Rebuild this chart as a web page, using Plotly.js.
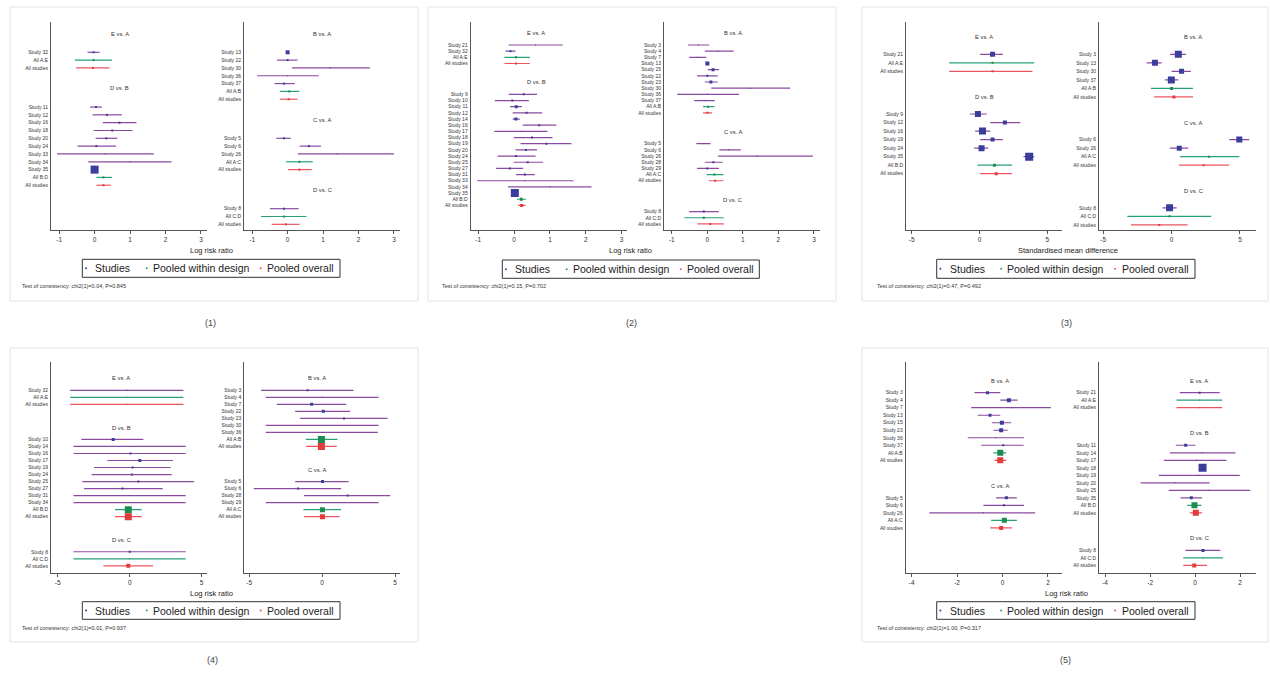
<!DOCTYPE html>
<html>
<head>
<meta charset="utf-8">
<script src="https://cdn.plot.ly/plotly-3.0.1.min.js"></script>
<style>html,body{margin:0;padding:0;background:#fff;}#chart{width:1270px;height:674px;}</style>
</head>
<body>
<div id="chart"></div>
<script>
// ===================== DATA =====================
// Panel (1) left
const p1a_groups = ["E vs. A", "D vs. B"];
const p1a_labels = ["Study 32","All A:E","All studies","Study 11","Study 12","Study 16","Study 18","Study 20","Study 24","Study 33","Study 34","Study 35","All B:D","All studies"];
const p1a_est = [-0.03,-0.03,-0.05,0.04,0.35,0.70,0.50,0.33,0.05,0.30,1.00,0.00,0.25,0.25];
const p1a_lo  = [-0.20,-0.56,-0.52,-0.13,-0.06,0.23,-0.03,0.03,-0.48,-1.06,-0.18,-0.05,0.05,0.05];
const p1a_hi  = [0.14,0.49,0.42,0.21,0.77,1.18,1.07,0.64,0.60,1.67,2.17,0.05,0.49,0.46];
const p1a_wt  = [2,2,2,2,2,2,2,2,2,1,1,8,2,2];
// Panel (1) right
const p1b_groups = ["B vs. A", "C vs. A", "D vs. C"];
const p1b_labels = ["Study 13","Study 22","Study 30","Study 36","Study 37","All A:B","All studies","Study 5","Study 6","Study 26","All A:C","All studies","Study 8","All C:D","All studies"];
const p1b_est = [0.00,0.00,1.20,0.00,-0.10,0.05,0.03,-0.10,0.60,1.40,0.33,0.33,-0.10,-0.10,-0.05];
const p1b_lo  = [-0.03,-0.30,0.12,-0.86,-0.37,-0.22,-0.22,-0.32,0.34,0.29,-0.04,0.01,-0.50,-0.75,-0.45];
const p1b_hi  = [0.03,0.28,2.32,0.88,0.20,0.33,0.28,0.09,0.94,3.00,0.71,0.68,0.31,0.53,0.34];
const p1b_wt  = [4,2,1,1,2,2,2,2,2,1,2,2,2,2,2];
// Panel (2) left
const p2a_groups = ["E vs. A", "D vs. B"];
const p2a_labels = ["Study 21","Study 32","All A:E","All studies","Study 9","Study 10","Study 11","Study 12","Study 14","Study 16","Study 17","Study 18","Study 19","Study 20","Study 24","Study 25","Study 27","Study 31","Study 33","Study 34","Study 35","All B:D","All studies"];
const p2a_est = [0.60,-0.10,0.05,0.05,0.27,-0.05,0.06,0.35,0.05,0.70,0.20,0.50,0.90,0.33,0.05,0.38,-0.12,0.30,0.30,1.00,0.02,0.20,0.21];
const p2a_lo  = [-0.15,-0.24,-0.27,-0.27,-0.15,-0.54,-0.11,-0.04,-0.04,0.24,-0.55,-0.01,0.18,0.04,-0.46,-0.01,-0.50,0.05,-1.03,-0.17,-0.03,0.08,0.11];
const p2a_hi  = [1.36,0.04,0.44,0.44,0.64,0.41,0.22,0.78,0.16,1.18,0.93,1.07,1.60,0.64,0.60,0.81,0.25,0.58,1.66,2.16,0.07,0.33,0.32];
const p2a_wt  = [1,2,2,2,2,2,3,2,3,2,1,2,2,2,2,2,2,2,1,1,8,3,3];
// Panel (2) right
const p2b_groups = ["B vs. A", "C vs. A", "D vs. C"];
const p2b_labels = ["Study 3","Study 4","Study 7","Study 13","Study 15","Study 22","Study 23","Study 30","Study 36","Study 37","All A:B","All studies","Study 5","Study 6","Study 26","Study 28","Study 29","All A:C","All studies","Study 8","All C:D","All studies"];
const p2b_est = [-0.25,0.30,-0.27,0.00,0.16,0.00,0.10,1.20,0.00,-0.08,0.02,0.00,-0.10,0.60,1.40,0.17,0.00,0.20,0.22,-0.10,-0.10,0.08];
const p2b_lo  = [-0.54,-0.07,-0.51,-0.03,0.01,-0.29,-0.07,0.11,-0.85,-0.37,-0.12,-0.12,-0.31,0.34,0.30,-0.07,-0.29,-0.02,0.04,-0.51,-0.65,-0.28];
const p2b_hi  = [0.05,0.74,-0.03,0.03,0.33,0.29,0.29,2.33,0.89,0.21,0.20,0.13,0.09,0.94,2.97,0.43,0.33,0.45,0.45,0.32,0.46,0.46];
const p2b_wt  = [1,1,1,4,3,2,3,1,1,1,2,2,1,1,1,2,2,2,2,2,2,2];
// Panel (3) left
const p3a_groups = ["E vs. A", "D vs. B"];
const p3a_labels = ["Study 21","All A:E","All studies","Study 9","Study 12","Study 16","Study 19","Study 24","Study 35","All B:D","All studies"];
const p3a_est = [0.96,0.96,0.96,-0.12,1.87,0.22,0.96,0.15,3.66,1.10,1.23];
const p3a_lo  = [0.05,-2.24,-2.24,-0.71,0.79,-0.32,0.05,-0.39,3.24,-0.15,0.05];
const p3a_hi  = [1.72,4.03,3.90,0.54,3.00,0.79,1.72,0.64,4.03,2.40,2.38];
const p3a_wt  = [5,2,2,6,4,7,4,6,8,3,3];
// Panel (3) right
const p3b_groups = ["B vs. A", "C vs. A", "D vs. C"];
const p3b_labels = ["Study 3","Study 13","Study 30","Study 37","All A:B","All studies","Study 6","Study 26","All A:C","All studies","Study 8","All C:D","All studies"];
const p3b_est = [0.49,-1.22,0.73,-0.02,0.00,0.17,4.95,0.56,2.73,2.34,-0.15,-0.15,-0.90];
const p3b_lo  = [-0.12,-1.83,0.00,-0.49,-1.51,-1.27,4.22,-0.12,0.61,0.54,-0.66,-3.24,-2.97];
const p3b_hi  = [1.05,-0.73,1.41,0.49,1.56,1.56,5.68,1.22,4.95,4.20,0.37,2.90,1.17];
const p3b_wt  = [7,6,5,7,3,3,6,5,2,2,7,2,2];
// Panel (4) left
const p4a_groups = ["E vs. A", "D vs. B", "D vs. C"];
const p4a_labels = ["Study 32","All A:E","All studies","Study 10","Study 14","Study 16","Study 17","Study 19","Study 24","Study 25","Study 27","Study 31","Study 34","All B:D","All studies","Study 8","All C:D","All studies"];
const p4a_est = [-0.20,-0.20,-0.20,-1.15,0.00,0.05,0.70,0.20,0.15,0.60,-0.50,0.00,0.00,-0.10,-0.10,0.00,0.00,-0.10];
const p4a_lo  = [-4.14,-4.14,-4.14,-3.36,-3.91,-3.91,-1.55,-2.48,-2.64,-3.29,-3.17,-3.91,-3.91,-1.02,-1.02,-3.91,-3.91,-1.83];
const p4a_hi  = [3.73,3.73,3.73,0.95,3.89,3.89,3.00,2.85,2.92,4.47,2.29,3.89,3.89,0.83,0.83,3.89,3.89,1.62];
const p4a_wt  = [1,1,1,3,1,2,3,2,2,2,2,1,1,7,7,2,1,4];
// Panel (4) right
const p4b_groups = ["B vs. A", "C vs. A"];
const p4b_labels = ["Study 3","Study 4","Study 7","Study 22","Study 23","Study 30","Study 36","All A:B","All studies","Study 5","Study 6","Study 28","Study 29","All A:C","All studies"];
const p4b_est = [-1.00,0.00,-0.72,0.08,1.50,0.00,0.00,-0.05,-0.05,0.03,-1.65,1.75,0.00,0.02,0.02];
const p4b_lo  = [-4.19,-3.87,-3.11,-1.85,-1.51,-3.87,-3.87,-1.12,-1.12,-1.85,-4.69,-1.24,-3.87,-1.28,-1.24];
const p4b_hi  = [2.15,3.87,1.65,1.92,4.49,3.87,3.82,1.05,1.00,1.81,1.30,4.67,3.87,1.30,1.19];
const p4b_wt  = [2,1,3,3,2,1,1,7,7,3,2,2,1,5,5];
// Panel (5) left
const p5a_groups = ["B vs. A", "C vs. A"];
const p5a_labels = ["Study 3","Study 4","Study 7","Study 13","Study 15","Study 23","Study 36","Study 37","All A:B","All studies","Study 5","Study 6","Study 26","All A:C","All studies"];
const p5a_est = [-0.66,0.28,0.40,-0.55,-0.03,-0.06,-0.30,0.03,-0.10,-0.10,0.17,0.06,-0.85,0.08,-0.06];
const p5a_lo  = [-1.23,-0.10,-1.38,-1.09,-0.47,-0.40,-1.53,-0.94,-0.40,-0.35,-0.28,-0.84,-3.22,-0.50,-0.54];
const p5a_hi  = [-0.10,0.66,2.13,-0.10,0.38,0.23,0.95,0.93,0.16,0.16,0.63,0.95,1.44,0.63,0.41];
const p5a_wt  = [3,4,1,3,4,4,1,2,6,6,3,2,1,5,4];
// Panel (5) right
const p5b_groups = ["E vs. A", "D vs. B", "D vs. C"];
const p5b_labels = ["Study 21","All A:E","All studies","Study 11","Study 14","Study 17","Study 18","Study 19","Study 20","Study 25","Study 35","All B:D","All studies","Study 8","All C:D","All studies"];
const p5b_est = [0.20,0.20,0.20,-0.42,0.30,0.05,0.33,0.15,-0.90,0.62,-0.17,-0.03,0.03,0.35,0.35,-0.04];
const p5b_lo  = [-0.68,-0.83,-0.83,-0.86,-1.12,-1.39,0.25,-1.61,-2.42,-1.17,-0.65,-0.35,-0.24,-0.43,-0.53,-0.53];
const p5b_hi  = [1.09,1.20,1.20,0.01,1.79,1.39,0.41,1.98,0.64,2.45,0.31,0.28,0.31,1.12,1.24,0.53];
const p5b_wt  = [2,1,1,3,1,1,8,1,1,1,3,6,6,3,1,4];

const xTitles = ["Log risk ratio","Log risk ratio","Standardised mean difference","Log risk ratio","Log risk ratio"];
const consistency = [
  "Test of consistency: chi2(1)=0.04, P=0.845",
  "Test of consistency: chi2(1)=0.15, P=0.702",
  "Test of consistency: chi2(1)=0.47, P=0.492",
  "Test of consistency: chi2(1)=0.01, P=0.937",
  "Test of consistency: chi2(1)=1.00, P=0.317"];
const captions = ["(1)","(2)","(3)","(4)","(5)"];
const legendNames = ["Studies","Pooled within design","Pooled overall"];
const xTicksRR = [-1,0,1,2,3];
const xTicksSMD = [-5,0,5];
const xTicksRR4 = [-5,0,5];
const xTicksRR5 = [-4,-2,0,2];

// ===================== LAYOUT GEOMETRY (pixels) =====================
const W = 1270, H = 674;
const PX = x => x / W, PY = y => 1 - y / H;
const C_STUDY_LINE = '#8a4aa0', C_STUDY_MK = '#3b3d9c';
const C_WITHIN = '#27a07a', C_WITHIN_MK = '#1c8c50';
const C_OVER = '#ec5560', C_OVER_MK = '#e23b3b';
const WT_SIZE = 1;

const panels = [
  {top:22, bottom:230, row0:52.3, sp:7.82, hdr:2.4, ticks:xTicksRR,
   subs:[{x0:51,x1:207,range:[-1.23,3.17],hx:0.44,g:p1a_groups,l:p1a_labels,e:p1a_est,lo:p1a_lo,hi:p1a_hi,w:p1a_wt},
         {x0:244,x1:400,range:[-1.23,3.17],hx:0.50,g:p1b_groups,l:p1b_labels,e:p1b_est,lo:p1b_lo,hi:p1b_hi,w:p1b_wt}],
   title:{x:211.7,y:250.7}, leg:{x0:82.3,x1:340,y0:259.3,y1:277.3}, test:{x:20,y:286}, cap:{x:210,y:323}, box:[10,7,418,301]},
  {top:21.7, bottom:230, row0:45, sp:6.17, hdr:1.95, ticks:xTicksRR,
   subs:[{x0:470.7,x1:626.7,range:[-1.21,3.14],hx:0.42,g:p2a_groups,l:p2a_labels,e:p2a_est,lo:p2a_lo,hi:p2a_hi,w:p2a_wt},
         {x0:664,x1:820,range:[-1.22,3.17],hx:0.44,g:p2b_groups,l:p2b_labels,e:p2b_est,lo:p2b_lo,hi:p2b_hi,w:p2b_wt}],
   title:{x:630,y:250.7}, leg:{x0:502.3,x1:759.3,y0:260,y1:278.3}, test:{x:440,y:286}, cap:{x:631,y:323}, box:[428,7,836,301]},
  {top:21.7, bottom:230, row0:54.3, sp:8.53, hdr:2.0, ticks:xTicksSMD,
   subs:[{x0:906,x1:1062.3,range:[-5.42,6.1],hx:0.50,g:p3a_groups,l:p3a_labels,e:p3a_est,lo:p3a_lo,hi:p3a_hi,w:p3a_wt},
         {x0:1099,x1:1255.7,range:[-5.31,6.15],hx:0.60,g:p3b_groups,l:p3b_labels,e:p3b_est,lo:p3b_lo,hi:p3b_hi,w:p3b_wt}],
   title:{x:1067.7,y:250.7}, leg:{x0:936.7,x1:1195,y0:259.3,y1:278.3}, test:{x:875,y:286}, cap:{x:1066,y:323}, box:[862,7,1268,301]},
  {top:361.7, bottom:572.7, row0:390.3, sp:7.02, hdr:1.7, ticks:xTicksRR4,
   subs:[{x0:51,x1:206.7,range:[-5.47,5.35],hx:0.45,g:p4a_groups,l:p4a_labels,e:p4a_est,lo:p4a_lo,hi:p4a_hi,w:p4a_wt},
         {x0:244.3,x1:400,range:[-5.34,5.34],hx:0.47,g:p4b_groups,l:p4b_labels,e:p4b_est,lo:p4b_lo,hi:p4b_hi,w:p4b_wt}],
   title:{x:211.7,y:593.3}, leg:{x0:82.3,x1:340,y0:601.7,y1:619.3}, test:{x:20,y:627.7}, cap:{x:212,y:660}, box:[10,348,418,642]},
  {top:361.7, bottom:572.7, row0:392.7, sp:7.51, hdr:1.6, ticks:xTicksRR5,
   subs:[{x0:905.7,x1:1062.3,range:[-4.26,2.63],hx:0.60,g:p5a_groups,l:p5a_labels,e:p5a_est,lo:p5a_lo,hi:p5a_hi,w:p5a_wt},
         {x0:1099,x1:1255.7,range:[-4.27,2.69],hx:0.64,g:p5b_groups,l:p5b_labels,e:p5b_est,lo:p5b_lo,hi:p5b_hi,w:p5b_wt}],
   title:{x:1066.7,y:593.3}, leg:{x0:936.7,x1:1195,y0:601.7,y1:619.3}, test:{x:875,y:627.7}, cap:{x:1065,y:660}, box:[862,348,1268,642]}
];

const traces = [];
const layout = {
  width: W, height: H, margin:{l:0,r:0,t:0,b:0},
  paper_bgcolor:'#ffffff', plot_bgcolor:'#ffffff', showlegend:false,
  font:{family:'Liberation Sans, Arial, sans-serif', color:'#333'},
  annotations:[], shapes:[]
};

let axIdx = 0;
panels.forEach((P, pi) => {
  // panel frame
  layout.shapes.push({type:'rect', xref:'paper', yref:'paper', x0:PX(P.box[0]), x1:PX(P.box[2]), y0:PY(P.box[3]), y1:PY(P.box[1]),
    line:{color:'#e3e3e3', width:1}, fillcolor:'rgba(0,0,0,0)', layer:'below'});
  P.subs.forEach(S => {
    axIdx++;
    const sfx = axIdx === 1 ? '' : String(axIdx);
    const xa = 'x' + sfx, ya = 'y' + sfx;
    // row positions: 4 empty rows between comparison groups
    const rows = []; const starts = []; let k = 0;
    S.l.forEach((lab, i) => {
      if (i === 0) starts.push(k);
      else if (S.l[i-1] === 'All studies') { k += 4; starts.push(k); }
      rows.push(k); k++;
    });
    const kinds = S.l.map(l => l.startsWith('Study') ? 0 : (l === 'All studies' ? 2 : 1));
    const styles = [
      {line:C_STUDY_LINE, mk:C_STUDY_MK},
      {line:C_WITHIN, mk:C_WITHIN_MK},
      {line:C_OVER, mk:C_OVER_MK}];
    [0,1,2].forEach(kind => {
      const idx = kinds.map((v,i)=>v===kind?i:-1).filter(i=>i>=0);
      if (!idx.length) return;
      traces.push({
        type:'scatter', mode:'markers', xaxis:xa, yaxis:ya, name:legendNames[kind],
        x: idx.map(i=>S.e[i]), y: idx.map(i=>rows[i]),
        error_x:{type:'data', symmetric:false, array: idx.map(i=>S.hi[i]-S.e[i]), arrayminus: idx.map(i=>S.e[i]-S.lo[i]),
          color: styles[kind].line, thickness:1.2, width:0},
        marker:{symbol:'square', size: idx.map(i=>S.w[i]*WT_SIZE), color: styles[kind].mk, opacity:1, line:{width:0}},
        hoverinfo:'skip', showlegend:false
      });
    });
    layout['xaxis'+sfx] = {domain:[PX(S.x0), PX(S.x1)], range:S.range, anchor:ya,
      tickmode:'array', tickvals:P.ticks, ticktext:P.ticks.map(String), ticks:'outside', ticklen:3, tickwidth:1, tickcolor:'#555',
      showline:true, linecolor:'#555', linewidth:1, showgrid:false, zeroline:false,
      tickfont:{size:6.5, color:'#333'}, fixedrange:true};
    layout['yaxis'+sfx] = {domain:[PY(P.bottom), PY(P.top)],
      range:[(P.bottom-P.row0)/P.sp, (P.top-P.row0)/P.sp], anchor:xa,
      tickmode:'array', tickvals:rows, ticktext:S.l, ticks:'', ticklabelstandoff:1,
      showline:true, linecolor:'#555', linewidth:1, showgrid:false, zeroline:false,
      tickfont:{size:5, color:'#333'}, fixedrange:true};
    S.g.forEach((gname, gi) => {
      layout.annotations.push({xref:xa+' domain', yref:ya, x:S.hx, y:starts[gi]-P.hdr, text:gname,
        showarrow:false, xanchor:'center', yanchor:'middle', font:{size:5.8, color:'#333'}});
    });
  });
  // axis title
  layout.annotations.push({xref:'paper', yref:'paper', x:PX(P.title.x), y:PY(P.title.y), text:xTitles[pi],
    showarrow:false, xanchor:'center', yanchor:'middle', font:{size:7.5, color:'#222'}});
  // legend box
  const L = P.leg;
  layout.shapes.push({type:'rect', xref:'paper', yref:'paper', x0:PX(L.x0), x1:PX(L.x1), y0:PY(L.y1), y1:PY(L.y0),
    line:{color:'#333', width:1}, fillcolor:'#ffffff'});
  const cy = (L.y0 + L.y1) / 2;
  const itemDx = [[3.7, 11], [64.4, 68.5], [178.4, 183]];
  const dotCols = [C_STUDY_MK, C_WITHIN, C_OVER];
  legendNames.forEach((nm, i) => {
    const dx = L.x0 + itemDx[i][0];
    layout.shapes.push({type:'circle', xref:'paper', yref:'paper', x0:PX(dx-1), x1:PX(dx+1), y0:PY(cy+1), y1:PY(cy-1),
      line:{width:0}, fillcolor:dotCols[i]});
    layout.annotations.push({xref:'paper', yref:'paper', x:PX(L.x0 + itemDx[i][1]), y:PY(cy), text:nm,
      showarrow:false, xanchor:'left', yanchor:'middle', font:{size:10.5, color:'#222'}});
  });
  // consistency test text
  layout.annotations.push({xref:'paper', yref:'paper', x:PX(P.test.x), y:PY(P.test.y), text:consistency[pi],
    showarrow:false, xanchor:'left', yanchor:'middle', font:{size:5.5, color:'#333'}});
  // caption
  layout.annotations.push({xref:'paper', yref:'paper', x:PX(P.cap.x), y:PY(P.cap.y), text:captions[pi],
    showarrow:false, xanchor:'center', yanchor:'middle', font:{size:9, color:'#444'}});
});

Plotly.newPlot('chart', traces, layout, {staticPlot:true, displayModeBar:false});
</script>
</body>
</html>
